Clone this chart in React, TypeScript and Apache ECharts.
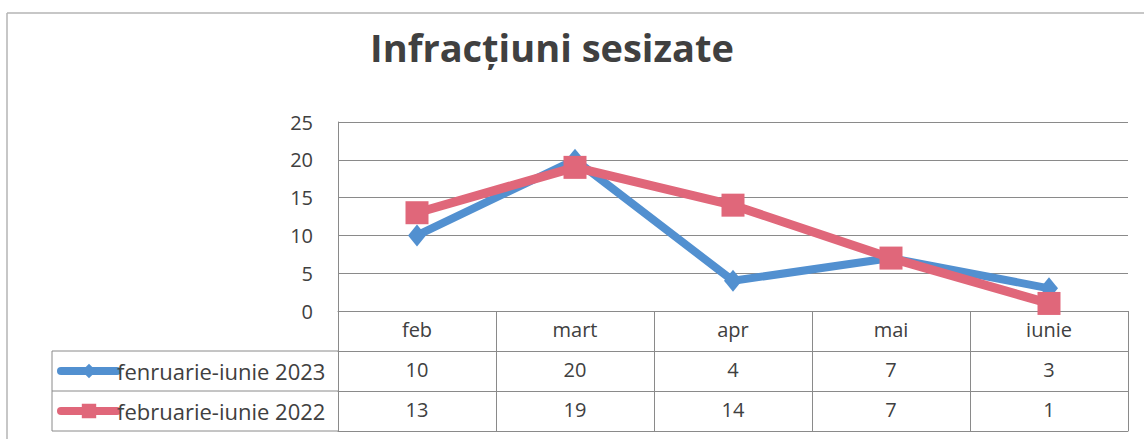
import React, { useEffect, useRef } from "react";
import * as echarts from "echarts";

const titleText = "Infracțiuni sesizate";
const categories = ["feb", "mart", "apr", "mai", "iunie"];
const seriesNames = ["fenruarie-iunie 2023", "februarie-iunie 2022"];
const values2023 = [10, 20, 4, 7, 3];
const values2022 = [13, 19, 14, 7, 1];
const yMin = 0;
const yMax = 25;
const yStep = 5;

const FONT = "'Open Sans', 'Noto Sans', sans-serif";
const TEXT = "#404040";
const LINE = "#8a8a8a";
const BLUE = "#5290d0";
const PINK = "#e0677a";

export default function App() {
  const ref = useRef<HTMLDivElement>(null);
  useEffect(() => {
    if (!ref.current) return;
    const chart = echarts.init(ref.current, null, { renderer: "svg" });
    const gridLeft = 338;
    const gridRight = 16;
    const gridTop = 122;
    const gridBottom = 128;
    const rowH = 40;
    const tableAxis = (data: string[], offset: number, showLabel: boolean) => ({
      type: "category",
      data,
      position: "bottom",
      offset,
      boundaryGap: true,
      axisLine: { show: true, lineStyle: { color: LINE, width: 1 } },
      axisTick: { show: true, length: rowH, alignWithLabel: false, lineStyle: { color: LINE, width: 1 } },
      axisLabel: { show: showLabel, fontSize: 20, color: TEXT, fontFamily: FONT, margin: 8, interval: 0 },
      splitLine: { show: false },
    });
    const legendItem = (i: number) => ({
      orient: "vertical",
      left: 57,
      top: 351 + i * rowH,
      height: rowH,
      padding: 0,
      itemGap: 0,
      itemWidth: 56,
      itemHeight: 18,
      textStyle: { fontSize: 22, color: TEXT, fontFamily: FONT, lineHeight: rowH, padding: [0, 0, 0, -5] },
      lineStyle: { width: 8, cap: "round" },
      data: [seriesNames[i]],
    });
    chart.setOption({
      animation: false,
      backgroundColor: "#ffffff",
      grid: { left: gridLeft, right: gridRight, top: gridTop, bottom: gridBottom },
      xAxis: [
        tableAxis(categories, 0, true),
        tableAxis(values2023.map(String), rowH, true),
        tableAxis(values2022.map(String), rowH * 2, true),
        { ...tableAxis(categories, rowH * 3, false), axisTick: { show: false } },
      ],
      yAxis: {
        type: "value",
        min: yMin,
        max: yMax,
        interval: yStep,
        axisLine: { show: true, lineStyle: { color: LINE, width: 1 } },
        axisTick: { show: false },
        axisLabel: { fontSize: 20, color: TEXT, fontFamily: FONT, margin: 25 },
        splitLine: { show: true, lineStyle: { color: LINE, width: 1 } },
      },
      legend: [legendItem(0), legendItem(1)],
      series: [
        {
          name: seriesNames[0],
          type: "line",
          data: values2023,
          xAxisIndex: 0,
          symbol: "diamond",
          symbolSize: [18, 22],
          lineStyle: { color: BLUE, width: 8 },
          itemStyle: { color: BLUE },
          z: 2,
        },
        {
          name: seriesNames[1],
          type: "line",
          data: values2022,
          xAxisIndex: 0,
          symbol: "rect",
          symbolSize: 23,
          lineStyle: { color: PINK, width: 9 },
          itemStyle: { color: PINK },
          z: 3,
        },
      ],
      graphic: [
        { type: "line", shape: { x1: 7, y1: 13, x2: 1144, y2: 13 }, style: { stroke: "#b5b5b5", lineWidth: 1.5 } },
        { type: "line", shape: { x1: 7, y1: 13, x2: 7, y2: 439 }, style: { stroke: "#b5b5b5", lineWidth: 1.5 } },
        { type: "line", shape: { x1: 52, y1: 351, x2: 52, y2: 431 }, style: { stroke: LINE, lineWidth: 1 } },
        { type: "line", shape: { x1: 52, y1: 351, x2: 338, y2: 351 }, style: { stroke: LINE, lineWidth: 1 } },
        { type: "line", shape: { x1: 52, y1: 391, x2: 338, y2: 391 }, style: { stroke: LINE, lineWidth: 1 } },
        { type: "line", shape: { x1: 52, y1: 431, x2: 338, y2: 431 }, style: { stroke: LINE, lineWidth: 1 } },
        {
          type: "text",
          x: 552,
          y: 47,
          style: {
            text: titleText,
            fontSize: 38,
            fontWeight: "bold",
            fontFamily: FONT,
            fill: TEXT,
            align: "center",
            verticalAlign: "middle",
          },
        },
      ],
    });
    return () => chart.dispose();
  }, []);
  return <div ref={ref} style={{ position: "fixed", left: 0, top: 0, width: 1144, height: 439 }} />;
}
